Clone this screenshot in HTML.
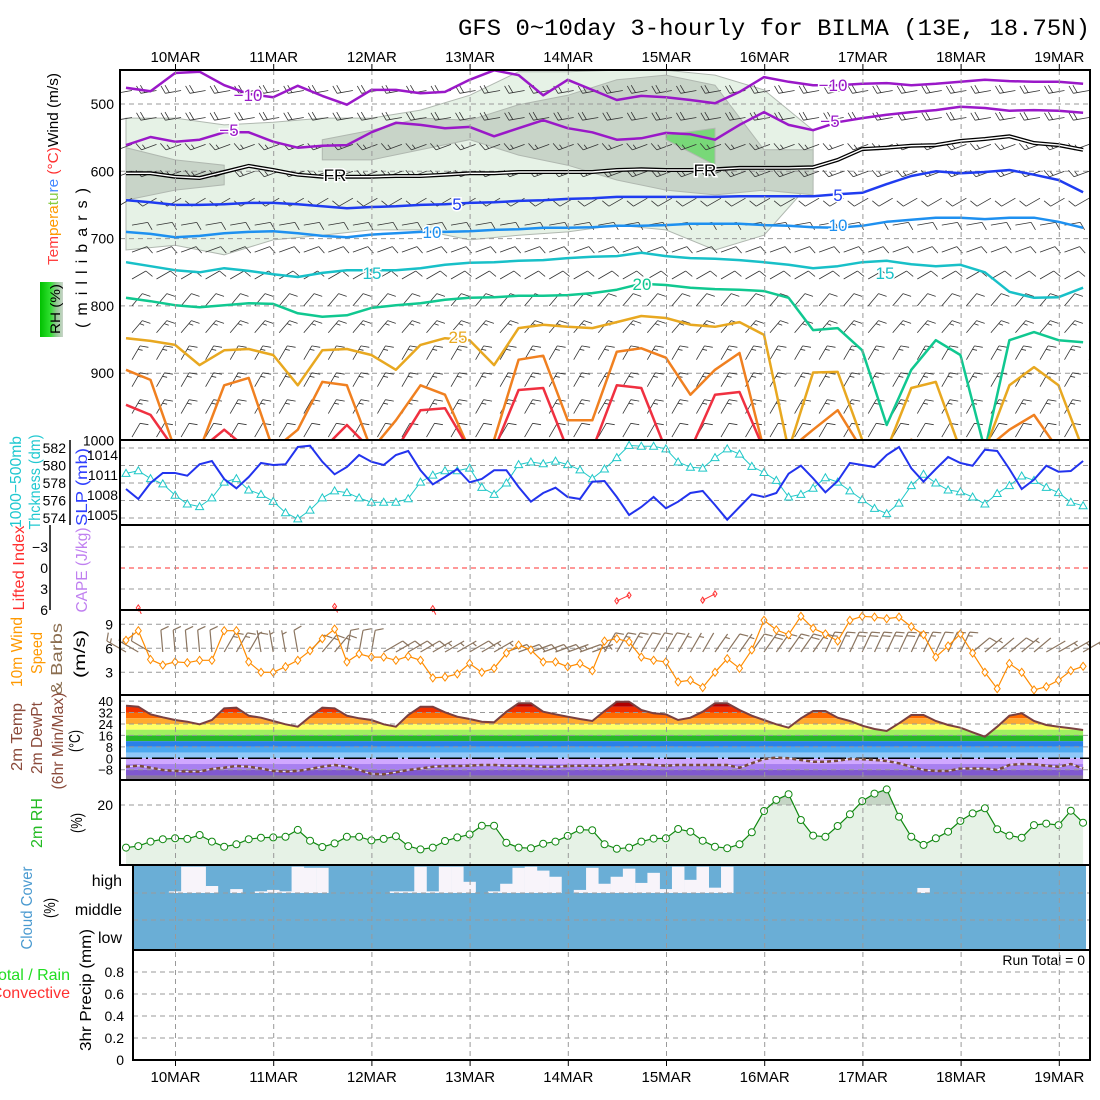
<!DOCTYPE html>
<html><head><meta charset="utf-8"><title>GFS meteogram BILMA</title>
<style>
body{margin:0;background:#fff}
svg{display:block;font-family:"Liberation Sans",sans-serif}
</style></head>
<body>
<svg id="c" xmlns="http://www.w3.org/2000/svg" width="1100" height="1100" viewBox="0 0 1100 1100">
<defs>
<clipPath id="p1c"><rect x="120" y="70" width="970" height="370"/></clipPath>
<clipPath id="p6top"><rect x="120" y="780" width="970" height="25"/></clipPath>
<clipPath id="tclip"><polygon id="tpoly" points="0,0"/></clipPath>
<linearGradient id="rhg" x1="0" x2="1" y1="0" y2="0"><stop offset="0" stop-color="#00c000"/><stop offset="0.45" stop-color="#30e030"/><stop offset="0.7" stop-color="#90c890"/><stop offset="1" stop-color="#c8d4c8"/></linearGradient>
</defs>
<rect x="0" y="0" width="1100" height="1100" fill="#fff"/>
<text x="458" y="35" textLength="632" lengthAdjust="spacingAndGlyphs" font-family="'Liberation Mono',monospace" font-size="23" fill="#000">GFS 0~10day 3-hourly for BILMA (13E, 18.75N)</text>

<text transform="translate(58,169) rotate(-90)" text-anchor="middle" font-size="15" textLength="192" lengthAdjust="spacingAndGlyphs"><tspan fill="#ff4040">Tem</tspan><tspan fill="#ff9900">pera</tspan><tspan fill="#88cc44">tu</tspan><tspan fill="#4488ff">re</tspan><tspan fill="#ff3030"> (°C)</tspan><tspan fill="#000">Wind (m/s)</tspan></text>
<rect x="40" y="282" width="23" height="55" fill="url(#rhg)"/>
<text transform="translate(60,309) rotate(-90)" text-anchor="middle" font-size="14" textLength="50" lengthAdjust="spacingAndGlyphs" fill="#000">RH (%)</text>
<text transform="translate(87,258) rotate(-90)" text-anchor="middle" font-size="16" textLength="140" lengthAdjust="spacing" fill="#000">(millibars)</text>
<text transform="translate(21,482) rotate(-90)" text-anchor="middle" font-size="16" textLength="92" lengthAdjust="spacingAndGlyphs" fill="#20c8d0">1000−500mb</text>
<text transform="translate(40,482) rotate(-90)" text-anchor="middle" font-size="16" textLength="95" lengthAdjust="spacingAndGlyphs" fill="#20c8d0">Thckness (dm)</text>
<text transform="translate(87,487) rotate(-90)" text-anchor="middle" font-size="16" textLength="78" lengthAdjust="spacingAndGlyphs" fill="#3040ff">SLP (mb)</text>
<text transform="translate(24,568) rotate(-90)" text-anchor="middle" font-size="16" textLength="85" lengthAdjust="spacingAndGlyphs" fill="#ff3030">Lifted Index</text>
<text transform="translate(87,570) rotate(-90)" text-anchor="middle" font-size="16" textLength="85" lengthAdjust="spacingAndGlyphs" fill="#c080f0">CAPE (J/kg)</text>
<text transform="translate(22,652) rotate(-90)" text-anchor="middle" font-size="16" textLength="70" lengthAdjust="spacingAndGlyphs" fill="#ff9900">10m Wind</text>
<text transform="translate(42,653) rotate(-90)" text-anchor="middle" font-size="16" textLength="42" lengthAdjust="spacingAndGlyphs" fill="#ff9900">Speed</text>
<text transform="translate(62,659) rotate(-90)" text-anchor="middle" font-size="16" textLength="72" lengthAdjust="spacingAndGlyphs" fill="#8b6e50">&amp; Barbs</text>
<text transform="translate(85,654) rotate(-90)" text-anchor="middle" font-size="16" textLength="48" lengthAdjust="spacingAndGlyphs" fill="#000">(m/s)</text>
<text transform="translate(22,737) rotate(-90)" text-anchor="middle" font-size="16" textLength="68" lengthAdjust="spacingAndGlyphs" fill="#8b4a3a">2m Temp</text>
<text transform="translate(42,738) rotate(-90)" text-anchor="middle" font-size="16" textLength="72" lengthAdjust="spacingAndGlyphs" fill="#8b4a3a">2m DewPt</text>
<text transform="translate(63,741) rotate(-90)" text-anchor="middle" font-size="16" textLength="97" lengthAdjust="spacingAndGlyphs" fill="#8b4a3a">(6hr Min/Max)</text>
<text transform="translate(80,741) rotate(-90)" text-anchor="middle" font-size="16" textLength="22" lengthAdjust="spacingAndGlyphs" fill="#000">(°C)</text>
<text transform="translate(42,823) rotate(-90)" text-anchor="middle" font-size="16" textLength="50" lengthAdjust="spacingAndGlyphs" fill="#22bb22">2m RH</text>
<text transform="translate(82,823) rotate(-90)" text-anchor="middle" font-size="16" textLength="20" lengthAdjust="spacingAndGlyphs" fill="#000">(%)</text>
<text transform="translate(32,908) rotate(-90)" text-anchor="middle" font-size="16" textLength="83" lengthAdjust="spacingAndGlyphs" fill="#4a9ad0">Cloud Cover</text>
<text transform="translate(55,908) rotate(-90)" text-anchor="middle" font-size="16" textLength="20" lengthAdjust="spacingAndGlyphs" fill="#000">(%)</text>
<text x="122" y="886" text-anchor="end" font-size="16" fill="#000">high</text>
<text x="122" y="915" text-anchor="end" font-size="16" fill="#000">middle</text>
<text x="122" y="943" text-anchor="end" font-size="16" fill="#000">low</text>
<text x="70" y="980" text-anchor="end" font-size="16" fill="#22dd22">Total / Rain</text>
<text x="70" y="998" text-anchor="end" font-size="16" fill="#ff3030">Convective</text>
<text transform="translate(91,990) rotate(-90)" text-anchor="middle" font-size="16" textLength="122" lengthAdjust="spacingAndGlyphs" fill="#000">3hr Precip (mm)</text>
<text x="1085" y="965" text-anchor="end" font-size="14" fill="#000">Run Total = 0</text>
</svg>

<script>
const dateLabels = ["10MAR","11MAR","12MAR","13MAR","14MAR","15MAR","16MAR","17MAR","18MAR","19MAR"];
const slp = [1008.9,1007.4,1009.8,1011.3,1011.3,1010.9,1012.6,1013.1,1010.4,1009.0,
1010.7,1012.8,1012.5,1012.6,1015.2,1015.4,1013.0,1011.1,1012.2,1014.0,
1013.0,1012.5,1014.0,1014.6,1011.7,1009.6,1010.7,1011.9,1009.9,1010.4,
1011.7,1011.7,1009.2,1007.0,1008.3,1009.1,1007.7,1007.4,1010.0,1010.1,
1007.7,1005.0,1006.2,1007.7,1006.0,1007.0,1008.3,1008.6,1006.5,1004.3,
1006.2,1008.1,1007.7,1008.3,1011.2,1012.4,1010.5,1008.4,1010.1,1012.8,
1012.5,1012.2,1014.0,1015.2,1012.0,1010.0,1011.9,1013.7,1012.8,1012.4,
1014.8,1014.6,1011.9,1008.9,1010.3,1012.4,1011.5,1011.6,1013.1];
const thickness = [579.1,579.4,578.5,577.9,576.6,575.6,575.3,576.3,578.1,578.5,
577.2,576.7,575.9,574.6,573.9,574.9,576.3,577.1,576.9,576.3,
575.8,575.8,575.8,576.2,578.1,578.9,579.4,579.4,579.7,577.5,
576.7,578.0,580.1,580.4,580.2,580.5,580.1,579.5,578.5,579.6,
580.9,582.3,582.2,582.2,581.9,580.4,579.8,579.7,580.9,581.9,
581.3,579.9,579.2,578.3,576.4,576.7,577.4,578.6,578.1,577.1,
576.1,575.1,574.5,575.7,577.7,579.0,578.0,577.2,577.0,576.4,
575.6,576.8,577.7,578.8,578.3,577.5,576.9,575.8,575.4];
const liftedIndex = [null,5.7,null,null,null,null,null,null,null,null,
null,null,null,null,null,null,null,5.5,null,null,
null,null,null,null,null,5.8,null,null,null,null,
null,null,null,null,null,null,null,null,null,null,
4.7,3.9,null,null,null,null,null,4.6,3.7,null,
null,null,null,null,null,null,null,null,null,null,
null,null,null,null,null,null,null,null,null,null,
null,null,null,null,null,null,null,null,null];
const wind10 = [7.0,8.2,4.6,3.9,4.3,4.2,4.5,4.5,8.2,8.2,
4.3,3.0,3.0,3.7,4.5,5.7,7.2,8.4,4.3,5.3,
4.9,4.9,4.5,5.0,4.5,2.3,2.4,2.8,4.1,3.0,
3.5,5.4,6.4,5.8,4.3,4.3,3.7,4.1,3.2,6.9,
7.2,6.8,4.9,4.5,4.3,1.8,2.0,1.1,3.0,4.7,
3.5,5.8,9.5,8.3,7.7,10.0,8.5,7.8,6.9,9.5,
10.0,9.9,9.7,9.9,8.7,7.7,4.9,6.3,7.8,5.4,
3.0,0.95,4.1,3.0,0.8,1.2,2.0,3.2,3.75];
const wind10Dir = [300,300,300,355,355,355,355,355,30,30,
30,350,350,350,350,40,40,40,10,10,
10,60,60,60,60,60,60,60,60,60,
60,70,70,70,70,70,70,70,70,30,
30,30,30,30,30,30,30,30,35,35,
35,35,35,35,35,35,35,25,25,25,
25,25,25,25,25,25,25,25,25,50,
50,50,50,50,50,60,60,60,60];
const temp2m = [36.8,36.1,30.8,28.7,26.8,25.6,23.8,26.8,35.0,35.4,
29.8,28.4,26.1,23.8,22.1,29.1,35.4,35.0,29.8,28.0,
26.8,23.8,22.1,30.3,36.1,36.1,32.2,29.1,27.5,25.6,
25.2,32.6,38.5,38.5,32.6,30.8,29.1,27.5,26.1,33.1,
39.6,39.6,33.8,31.5,30.8,26.8,28.4,32.6,38.5,38.5,
33.8,29.8,26.8,23.8,21.4,28.0,33.1,33.1,28.4,26.1,
22.8,20.5,19.1,24.5,30.3,30.3,26.1,23.3,21.4,18.2,
15.1,22.1,29.8,31.5,26.1,23.3,22.1,21.0,19.8];
const dewpt2m = [-5.9,-5.2,-6.6,-8.2,-8.9,-9.3,-9.3,-7.5,-6.6,-5.4,
-5.9,-7.1,-8.9,-9.3,-8.9,-7.5,-5.9,-4.7,-5.9,-8.2,
-10.9,-11.2,-9.8,-8.2,-7.1,-5.9,-5.4,-5.4,-5.2,-4.7,
-4.7,-5.2,-5.2,-5.4,-5.9,-5.9,-5.4,-5.2,-5.2,-5.2,
-4.7,-4.2,-4.2,-4.7,-5.2,-4.7,-4.7,-4.7,-4.7,-4.7,
-6.6,-3.5,-0.5,0.5,0.0,-1.2,-2.4,-2.4,-1.7,-0.5,
-0.7,-1.2,-1.9,-3.5,-5.9,-8.2,-8.9,-8.9,-7.1,-7.1,
-7.1,-8.2,-4.7,-4.0,-4.2,-5.2,-5.9,-4.0,-7.1];
const rh2m = [5.8,6.3,7.8,8.6,8.9,8.7,10.0,7.8,6.1,6.9,
8.6,9.1,9.2,9.4,11.7,8.1,6.0,7.2,9.4,9.4,
8.2,8.7,9.6,6.3,5.2,5.8,8.0,9.2,10.2,13.1,
13.1,7.4,5.8,5.6,7.1,7.8,9.7,11.8,11.6,6.9,
5.4,5.8,7.8,8.8,8.9,12.0,11.1,8.1,6.1,5.6,
6.9,10.9,18.0,21.7,23.6,15.0,9.8,9.4,13.0,16.9,
21.3,23.8,25.2,16.1,9.4,6.7,8.9,11.1,14.7,17.2,
18.9,11.9,9.8,9.1,13.3,13.8,13.3,18.1,14.1];
const highCloud = [100,100,100,100,94,6,6,75,100,86,
100,94,89,94,6,10,10,100,100,100,
100,100,94,94,6,94,6,6,60,100,
94,67,10,6,20,42,100,89,10,67,
42,13,64,28,86,6,53,6,81,6,
100,100,100,100,100,100,100,100,100,100,
100,100,100,100,100,82,100,100,100,100,
100,100,100,100,100,100,100,100,100];
const isoMinus10 = [476,481,454,452,472,485,490,473,488,501,479,479,484,482,464,450,457,487,464,479,494,488,490,494,499,482,460,467,472,472,470,469,472,470,467,464,466,467,467,470];
const isoMinus5 = [561,549,556,553,542,542,556,565,562,561,542,528,531,536,534,548,536,524,536,542,553,551,543,545,553,531,512,531,539,527,521,516,512,509,504,506,510,509,510,513];
const isoZero = [603,603,608,610,601,592,598,605,608,608,608,607,607,605,603,603,601,601,601,601,598,597,598,598,597,595,595,595,594,583,567,565,562,561,555,552,548,558,561,568];
const iso5 = [643,646,650,650,649,647,647,649,652,655,653,652,650,649,647,646,644,643,641,640,638,638,638,638,638,637,637,637,637,634,632,619,607,600,603,601,598,605,613,631];
const iso10 = [690,693,698,696,692,690,689,692,696,698,694,692,690,690,689,687,686,684,684,683,681,681,680,678,678,678,680,681,683,684,681,675,672,669,669,671,669,669,675,684];
const iso15 = [735,741,747,750,744,748,753,757,751,747,747,747,744,739,736,735,733,732,729,727,726,721,726,729,730,732,735,739,744,741,735,733,738,741,739,750,779,788,787,773];
const iso20 = [788,793,799,802,799,796,797,811,816,814,803,799,796,791,788,787,785,785,784,781,776,767,769,773,775,776,778,788,836,833,866,977,895,851,873,1014,851,839,851,854];
const iso25 = [848,852,858,888,866,864,873,918,866,864,873,895,858,848,851,888,833,828,831,833,824,815,818,828,831,824,843,1014,899,898,999,1014,922,913,1014,1014,918,891,918,1014];
const iso30 = [895,910,1014,1014,918,907,1014,984,913,918,1014,970,918,932,1014,999,880,874,970,970,868,863,877,932,895,870,1014,1014,984,955,1014,1014,999,1014,1014,1014,984,962,1014,1014];
const iso35 = [947,962,1014,1014,984,1014,1014,1014,1014,977,1014,1014,955,952,1014,1014,925,922,1014,1014,918,922,1014,1014,932,928,1014,1014,1014,1014,1014,1014,1014,1014,1014,1014,1014,1014,1014,1014];
const rh10Top = [521,521,531,527,521,521,509,487,452,452,450,450,457,479,539,null,null,null,null,null];
const rh10Bot = [717,710,724,702,695,687,687,702,695,690,680,687,717,695,613,null,null,null,null,null];
const rh30Top = [565,583,591,null,553,539,521,524,501,487,464,457,472,568,568,null,null,null,null,null];
const rh30Bot = [643,628,620,null,583,583,568,553,576,591,613,628,635,628,635,null,null,null,null,null];
const rh50Top = [null,null,null,null,null,null,null,null,null,null,null,546,536,null,null,null,null,null,null,null];
const rh50Bot = [null,null,null,null,null,null,null,null,null,null,null,553,591,null,null,null,null,null,null,null];
const barbLevels = [480,520,560,600,640,680,720,760,800,840,880,920,960,995];
const barbDir = [260,260,250,250,240,80,70,60,40,40,30,30,30,30];
const barbSpd = [10,10,8,8,6,6,6,6,6,8,8,8,8,6];
const pTicks = [500,600,700,800,900,1000];
const thkTicks = [582,580,578,576,574];
const slpTicks = [1014,1011,1008,1005];
const liTicks = [-3,0,3,6];
const windTicks = [9,6,3];
const tempTicks = [40,32,24,16,8,0,-8];
const rhTicks = [20];
const precipTicks = [0,0.2,0.4,0.6,0.8];

const NS = "http://www.w3.org/2000/svg";
const svg = document.getElementById('c');
const X = i => 126 + i*12.27;
const XK = k => 126 + k*24.54;
const XJ = j => 126 + j*49.08;
const DX = d => 175.5 + d*98.2;
const PY = p => 104 + (p-500)*0.673;
const slpY = v => 455 + (1014-v)*6.667;
const thkY = v => 448 + (582-v)*8.75;
const liY = v => 568 + v*7;
const wY = v => 624.3 + (9-v)*8;
const tY = v => 758.3 - v*1.43;
const rhY = v => 865 - v*3;
const prY = v => 1060 - v*110;

function mk(tag, attrs, parent){
  const e = document.createElementNS(NS, tag);
  for (const k in attrs) e.setAttribute(k, attrs[k]);
  (parent || svg).appendChild(e);
  return e;
}
function pts(arr){ return arr.map(p => p[0].toFixed(1)+','+p[1].toFixed(1)).join(' '); }
function barbPath(x, y, dir, spdMs, L){
  const r = dir*Math.PI/180;
  const dx = Math.sin(r), dy = -Math.cos(r);
  const ex = x + dx*L, ey = y + dy*L;
  const px = -dy, py = dx;
  let d = 'M'+x.toFixed(1)+' '+y.toFixed(1)+'L'+ex.toFixed(1)+' '+ey.toFixed(1);
  let kt = Math.round(spdMs*1.944/5)*5;
  let pos = 0;
  while (kt >= 10){
    const bx = ex - dx*pos, by = ey - dy*pos;
    d += 'M'+bx.toFixed(1)+' '+by.toFixed(1)+'l'+(px*8+dx*3).toFixed(1)+' '+(py*8+dy*3).toFixed(1);
    kt -= 10; pos += 4;
  }
  if (kt >= 5){
    if (pos===0) pos = 4;
    const bx = ex - dx*pos, by = ey - dy*pos;
    d += 'M'+bx.toFixed(1)+' '+by.toFixed(1)+'l'+(px*4.5+dx*1.5).toFixed(1)+' '+(py*4.5+dy*1.5).toFixed(1);
  }
  return d;
}

// PANEL 1
const g1 = mk('g', {'clip-path':'url(#p1c)'});


function bandPolys(top, bot, fill, name){
  let run = [];
  const flush = () => {
    if (run.length >= 2){
      const up = run.map(j => [XJ(j), PY(top[j])]);
      const dn = run.slice().reverse().map(j => [XJ(j), PY(bot[j])]);
      const pg = mk('polygon', {points: pts(up.concat(dn)), fill: fill, stroke: '#b0b8b0', 'stroke-width': 1}, g1);
      
      
    }
    run = [];
  };
  for (let j = 0; j < top.length; j++){
    if (top[j] === null) flush(); else run.push(j);
  }
  flush();
}
bandPolys(rh10Top, rh10Bot, '#e6f2e6', 'rh-10-area');
bandPolys(rh30Top, rh30Bot, '#c8d4c8', 'rh-30-area');
bandPolys(rh50Top, rh50Bot, '#78d878', 'rh-50-area');
pTicks.slice(0,5).forEach(p => {
  const l = mk('line', {x1:120, x2:1090, y1:PY(p), y2:PY(p), stroke:'#999', 'stroke-width':1, 'stroke-dasharray':'5,4'}, g1);
  
  
});
for (let k = 0; k < 40; k++){
  for (let m = 0; m < barbLevels.length; m++){
    const b = mk('path', {d: barbPath(XK(k)+6, PY(barbLevels[m]), barbDir[m], barbSpd[m], 16), stroke:'#333', 'stroke-width':0.8, fill:'none'}, g1);
    
    
  }
}
function iso(arr, color, w, name, dbl){
  const p = arr.map((v,k) => [XK(k), PY(v)]);
  if (dbl){
    const a = mk('polyline', {points: pts(p), fill:'none', stroke:'#000', 'stroke-width':4}, g1);
    
    
    const b = mk('polyline', {points: pts(p), fill:'none', stroke:'#fff', 'stroke-width':1.4}, g1);
    
    
  } else {
    const l = mk('polyline', {points: pts(p), fill:'none', stroke:color, 'stroke-width':w, 'stroke-linejoin':'round'}, g1);
    
    
  }
}
iso(isoMinus10, '#9a18c8', 2.5, 'isotherm-minus10');
iso(isoMinus5, '#9a18c8', 2.5, 'isotherm-minus5');
iso(isoZero, '#000', 2, 'freezing-level', true);
iso(iso5, '#1f3cf0', 2.5, 'isotherm-5');
iso(iso10, '#1e90f0', 2.5, 'isotherm-10');
iso(iso15, '#18c0c8', 2.5, 'isotherm-15');
iso(iso20, '#10c890', 2.5, 'isotherm-20');
iso(iso25, '#e8a820', 2.5, 'isotherm-25');
iso(iso30, '#f08020', 2.5, 'isotherm-30');
iso(iso35, '#f03040', 2.5, 'isotherm-35');
const isoLabels = [["−10",248,101,'#9a18c8'],["−10",833,91,'#9a18c8'],["−5",229,136,'#9a18c8'],["−5",830,127,'#9a18c8'],
  ["FR",335,181,'#000'],["FR",705,176,'#000'],["5",457,210,'#1f3cf0'],["5",838,201,'#1f3cf0'],
  ["10",432,238,'#1e90f0'],["10",838,231,'#1e90f0'],["15",372,279,'#18c0c8'],["15",885,279,'#18c0c8'],
  ["20",642,290,'#10c890'],["25",458,343,'#e8a820']];
isoLabels.forEach(L => {
  const t = mk('text', {x:L[1], y:L[2], 'text-anchor':'middle', 'font-size':17, fill:L[3], stroke:'#fff', 'stroke-width':3, 'paint-order':'stroke'}, g1);
  t.textContent = L[0];
  
  
});
pTicks.forEach(p => {
  const t = mk('text', {x:114, y:PY(p)+5, 'text-anchor':'end', 'font-size':14, fill:'#000'});
  t.textContent = p;
  
  
});

// PANEL 2
thkTicks.forEach(v => {
  const l = mk('line', {x1:120, x2:1090, y1:thkY(v), y2:thkY(v), stroke:'#999', 'stroke-dasharray':'5,4'});
  
  
  const t = mk('text', {x:66, y:thkY(v)+5, 'text-anchor':'end', 'font-size':14, fill:'#000'});
  t.textContent = v;
  
  
});
slpTicks.forEach(v => {
  const t = mk('text', {x:118, y:slpY(v)+5, 'text-anchor':'end', 'font-size':14, fill:'#000'});
  t.textContent = v;
  
  
});
const thkAx = mk('line', {x1:70, x2:70, y1:440, y2:525, stroke:'#000', 'stroke-width':1.5});


const thkLine = mk('polyline', {points: pts(thickness.map((v,i) => [X(i), thkY(v)])), fill:'none', stroke:'#20c8c8', 'stroke-width':1});


thickness.forEach((v,i) => {
  const m = mk('path', {d:'M'+X(i).toFixed(1)+' '+(thkY(v)-4).toFixed(1)+'l4 7h-8z', fill:'#fff', stroke:'#20c8c8', 'stroke-width':1});
  
  
});
const slpLine = mk('polyline', {points: pts(slp.map((v,i) => [X(i), slpY(v)])), fill:'none', stroke:'#2233ee', 'stroke-width':2});



// PANEL 3
liTicks.forEach(v => {
  if (v !== 0 && v !== 6){
    const l = mk('line', {x1:120, x2:1090, y1:liY(v), y2:liY(v), stroke:'#999', 'stroke-dasharray':'5,4'});
    
    
  }
  const t = mk('text', {x:48, y:liY(v)+5, 'text-anchor':'end', 'font-size':14, fill:'#000'});
  t.textContent = v < 0 ? '−'+(-v) : v;
  
  
});
const li0 = mk('line', {x1:120, x2:1090, y1:liY(0), y2:liY(0), stroke:'#ff3030', 'stroke-dasharray':'5,4'});


const liAx = mk('line', {x1:50, x2:50, y1:525, y2:610, stroke:'#000', 'stroke-width':1.5});


{
  let seg = [];
  const flushLI = () => {
    if (seg.length){
      const pl = mk('polyline', {points: pts(seg.map(i => [X(i), liY(liftedIndex[i])]).concat(seg.length===1?[[X(seg[0])+3, liY(liftedIndex[seg[0]])+6]]:[])), fill:'none', stroke:'#ff3030', 'stroke-width':1});
      
      
      seg.forEach(i => {
        const m = mk('path', {d:'M'+X(i)+' '+(liY(liftedIndex[i])-3)+'l2 3l-2 3l-2 -3z', fill:'none', stroke:'#ff3030'});
        
        
      });
    }
    seg = [];
  };
  liftedIndex.forEach((v,i) => { if (v === null) flushLI(); else seg.push(i); });
  flushLI();
}

// PANEL 4
windTicks.forEach(v => {
  const l = mk('line', {x1:120, x2:1090, y1:wY(v), y2:wY(v), stroke:'#999', 'stroke-dasharray':'5,4'});
  
  
  const t = mk('text', {x:113, y:wY(v)+5, 'text-anchor':'end', 'font-size':14, fill:'#000'});
  t.textContent = v;
  
  
});
wind10.forEach((v,i) => {
  const b = mk('path', {d: barbPath(X(i), 652, wind10Dir[i], v, 22), stroke:'#8b7560', 'stroke-width':1.2, fill:'none'});
  
  
});
const wl = mk('polyline', {points: pts(wind10.map((v,i) => [X(i), wY(v)])), fill:'none', stroke:'#ff8c00', 'stroke-width':1.2});


wind10.forEach((v,i) => {
  const m = mk('path', {d:'M'+X(i).toFixed(1)+' '+(wY(v)-4).toFixed(1)+'l3 4l-3 4l-3 -4z', fill:'#fff', stroke:'#ff8c00', 'stroke-width':1});
  
  
});

// PANEL 5
const tPoly = temp2m.map((v,i) => [X(i), tY(v)]).concat([[X(temp2m.length-1), 779], [X(0), 779]]);
document.getElementById('tpoly').setAttribute('points', pts(tPoly));
const bands = [[36,60,'#b00000'],[32,36,'#f03000'],[28,32,'#ff6a00'],[24,28,'#ffaa30'],[20,24,'#ffff66'],[16,20,'#a0f060'],
  [12,16,'#28b828'],[8,12,'#2a80e8'],[4,8,'#4aa8f0'],[0,4,'#90c8f8'],[-4,0,'#d0a8ff'],[-8,-4,'#a880f0'],[-12,-8,'#8058d0'],[-20,-12,'#887898']];
const gT = mk('g', {'clip-path':'url(#tclip)'});


bands.forEach(b => {
  const y1 = Math.max(tY(b[1]), 695), y2 = Math.min(tY(b[0]), 780);
  const r = mk('rect', {x:120, y:y1, width:970, height:Math.max(0,y2-y1), fill:b[2]}, gT);
  
  
});
tempTicks.forEach(v => {
  if (v !== 0){
    const l = mk('line', {x1:120, x2:1090, y1:tY(v), y2:tY(v), stroke:'#999', 'stroke-dasharray':'5,4'});
    
    
  }
  const t = mk('text', {x:113, y:tY(v)+5, 'text-anchor':'end', 'font-size':13, fill:'#000'});
  t.textContent = v < 0 ? '−'+(-v) : v;
  
  
});
const zl = mk('line', {x1:120, x2:1090, y1:tY(0), y2:tY(0), stroke:'#000', 'stroke-width':1.5, 'stroke-dasharray':'22,4,2,4'});


const tl = mk('polyline', {points: pts(temp2m.map((v,i) => [X(i), tY(v)])), fill:'none', stroke:'#7a4040', 'stroke-width':2});


const dpts = pts(dewpt2m.map((v,i) => [X(i), tY(v)]));
const dl1 = mk('polyline', {points: dpts, fill:'none', stroke:'#f0e8f0', 'stroke-width':1});


const dl2 = mk('polyline', {points: dpts, fill:'none', stroke:'#7a4a3a', 'stroke-width':2.5, 'stroke-dasharray':'4,3'});



// PANEL 6
const rhArea = rh2m.map((v,i) => [X(i), rhY(v)]).concat([[X(rh2m.length-1), 865], [X(0), 865]]);
const ra = mk('polygon', {points: pts(rhArea), fill:'#e6f2e6'});


const ra2 = mk('polygon', {points: pts(rhArea), fill:'#c5d5c5', 'clip-path':'url(#p6top)'});


rhTicks.forEach(v => {
  const l = mk('line', {x1:120, x2:1090, y1:rhY(v), y2:rhY(v), stroke:'#999', 'stroke-dasharray':'5,4'});
  
  
  const t = mk('text', {x:113, y:rhY(v)+5, 'text-anchor':'end', 'font-size':14, fill:'#000'});
  t.textContent = v;
  
  
});
const rl = mk('polyline', {points: pts(rh2m.map((v,i) => [X(i), rhY(v)])), fill:'none', stroke:'#118811', 'stroke-width':1.2});


rh2m.forEach((v,i) => {
  const c = mk('circle', {cx:X(i), cy:rhY(v), r:3.5, fill:'#fff', stroke:'#118811', 'stroke-width':1});
  
  
});

// PANEL 7
const cb = mk('rect', {x:133, y:866, width:953, height:84, fill:'#6aaed6'});


highCloud.forEach((v,i) => {
  if (v < 100){
    const top = 865 + v/100*28;
    const r = mk('rect', {x:X(i)-6.2, y:top, width:12.5, height:893-top, fill:'#f8f4fa'});
    
    
  }
});
[893,920].forEach(y => {
  const l = mk('line', {x1:133, x2:1090, y1:y, y2:y, stroke:'#999', 'stroke-dasharray':'5,4'});
  
  
});

// PANEL 8
precipTicks.forEach(v => {
  if (v > 0){
    const l = mk('line', {x1:133, x2:1090, y1:prY(v), y2:prY(v), stroke:'#999', 'stroke-dasharray':'5,4'});
    
    
  }
  const t = mk('text', {x:124, y:prY(v)+5, 'text-anchor':'end', 'font-size':14, fill:'#000'});
  t.textContent = v;
  
  
});

// day grid + labels
dateLabels.forEach((s,d) => {
  const l = mk('line', {x1:DX(d), x2:DX(d), y1:70, y2:1060, stroke:'#999', 'stroke-dasharray':'5,4'});
  
  
  const t1 = mk('text', {x:DX(d), y:62, 'text-anchor':'middle', 'font-size':15, fill:'#000'});
  t1.textContent = s;
  
  
  const t2 = mk('text', {x:DX(d), y:1082, 'text-anchor':'middle', 'font-size':15, fill:'#000'});
  t2.textContent = s;
  
  
  const k1 = mk('line', {x1:DX(d), x2:DX(d), y1:64, y2:70, stroke:'#000'});
  
  
  const k2 = mk('line', {x1:DX(d), x2:DX(d), y1:1060, y2:1066, stroke:'#000'});
  
  
});

const frames = [[120,70,440,'upper-air-frame'],[120,440,525,'thickness-slp-frame'],[120,525,610,'cape-li-frame'],[120,610,695,'wind10-frame'],
  [120,695,780,'temp2m-frame'],[120,780,865,'rh2m-frame'],[133,865,950,'cloud-frame'],[133,950,1060,'precip-frame']];
frames.forEach(f => {
  const r = mk('rect', {x:f[0], y:f[1], width:1090-f[0], height:f[2]-f[1], fill:'none', stroke:'#000', 'stroke-width':2});
  
  
});
</script>
</body></html>
